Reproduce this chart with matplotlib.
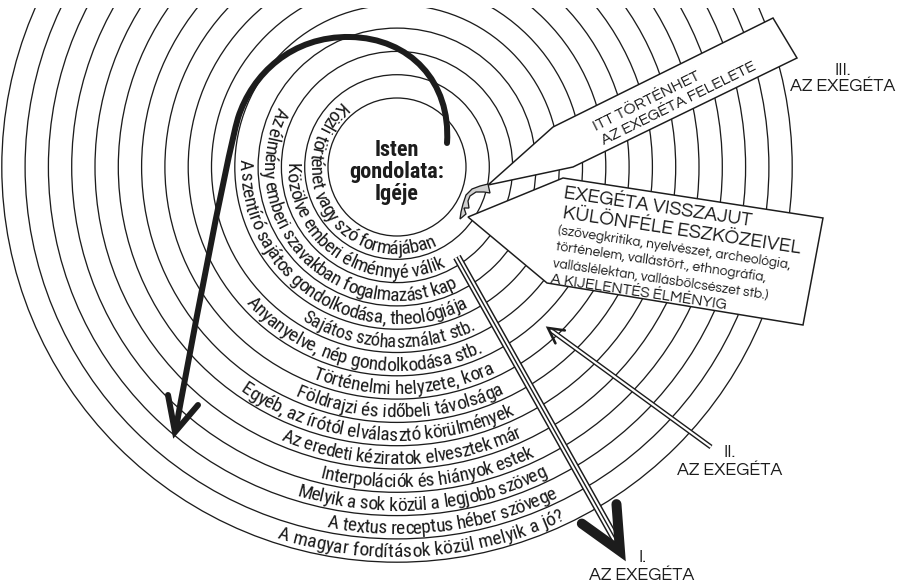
import numpy as np
import matplotlib
matplotlib.use('Agg')
import matplotlib.pyplot as plt
from matplotlib import font_manager
from matplotlib.font_manager import FontProperties
from matplotlib.patches import Circle, Polygon, PathPatch, Rectangle
from matplotlib.path import Path
from matplotlib.lines import Line2D

W, H, DPI = 906, 585, 100
PT = 72 / DPI  # points per pixel

# ---- content -------------------------------------------------------------
center_label = 'Isten\ngondolata:\nIgéje'

ring_labels = [
    'Közli történet vagy szó formájában',
    'Közölve emberi élménnyé válik',
    'Az élmény emberi szavakban fogalmazást kap',
    'A szentíró sajátos gondolkodása, theológiája',
    'Sajátos szóhasználat stb.',
    'Anyanyelve, nép gondolkodása stb.',
    'Történelmi helyzete, kora',
    'Földrajzi és időbeli távolsága',
    'Egyéb, az írótól elválasztó körülmények',
    'Az eredeti kéziratok elvesztek már',
    'Interpolációk és hiányok estek',
    'Melyik a sok közül a legjobb szöveg',
    'A textus receptus héber szövege',
    'A magyar fordítások közül melyik a jó?',
]

ribbon_lines = ['ITT TÖRTÉNHET', 'AZ EXEGÉTA FELELETE']

box_lines = [
    'EXEGÉTA VISSZAJUT',
    'KÜLÖNFÉLE ESZKÖZEIVEL',
    '(szövegkritika, nyelvészet, archeológia,',
    'történelem, vallástört., ethnográfia,',
    'valláslélektan, vallásbölcsészet stb.)',
    'A KIJELENTÉS ÉLMÉNYIG',
]

exegeta_numbers = ['I.', 'II.', 'III.']
exegeta_title = 'AZ EXEGÉTA'

# ---- layout --------------------------------------------------------------
CX, CY = 397, 167
R0, DR = 69, 23.3
ring_start = [131, 178, 153, 177, 238, 222, 248, 246, 235, 247, 256, 253, 259, 252]
ring_end = [297, 296, 297, 297, 296, 295, 295.5, 295.4, 295.5, 295, 295.4, 296, 296, 295.5]

fonts = font_manager.fontManager.ttflist


def pick(candidates, weight=400):
    for name in candidates:
        for f in fonts:
            if f.name == name and abs(int(f.weight) - weight) < 50 and f.style == 'normal':
                return name
    return 'DejaVu Sans'


NARROW = pick(['Roboto Condensed', 'Archivo Narrow', 'PT Sans Narrow', 'Asap Condensed',
               'Liberation Sans Narrow', 'Liberation Sans'])
NARROW_BOLD = pick(['Roboto Condensed', 'Asap Condensed', 'PT Sans Narrow',
                    'Barlow Semi Condensed', 'Liberation Sans'], 700)
WIDE = pick(['Questrial', 'Didact Gothic', 'DejaVu Sans'])
INK = '#1c1c1c'


def advance(ch, prop):
    font = font_manager.get_font(font_manager.findfont(prop))
    font.set_size(prop.get_size_in_points(), DPI)
    return font.load_char(ord(ch)).linearHoriAdvance / 65536


def curved_text(ax, s, r_base, a0, a1, fs):
    prop = FontProperties(family=NARROW, size=fs)
    widths = [advance(c, prop) for c in s]
    arc = r_base * np.radians(a1 - a0)
    k = arc / sum(widths)
    if k < 0.93:  # font too wide: shrink it instead of crushing letters
        fs = fs * k / 0.97
        prop = FontProperties(family=NARROW, size=fs)
        widths = [advance(c, prop) for c in s]
        k = arc / sum(widths)
    cum = 0.0
    for c, w in zip(s, widths):
        a = np.radians(a0) + k * (cum + w / 2) / r_base
        x = CX + r_base * np.cos(a)
        y = CY - r_base * np.sin(a)
        ax.text(x, y, c, rotation=np.degrees(a) + 90, rotation_mode='anchor',
                ha='center', va='baseline', fontsize=fs, family=NARROW,
                color=INK, zorder=2)
        cum += w


def line(ax, pts, px, color=INK, z=5, cap='butt', join='miter'):
    pts = np.asarray(pts, float)
    ax.add_line(Line2D(pts[:, 0], pts[:, 1], lw=px * PT, color=color, zorder=z,
                       solid_capstyle=cap, solid_joinstyle=join))


def chevron(ax, tip, back, length, spread, px, z=6):
    back = np.asarray(back, float)
    back = back / np.hypot(*back)
    arms = []
    for s in (spread, -spread):
        t = np.radians(s)
        rot = np.array([[np.cos(t), -np.sin(t)], [np.sin(t), np.cos(t)]])
        arms.append(np.asarray(tip) + length * rot @ back)
    line(ax, [arms[0], tip, arms[1]], px, z=z, cap='round', join='miter')


fig = plt.figure(figsize=(W / DPI, H / DPI), dpi=DPI)
ax = fig.add_axes([0, 0, 1, 1])
ax.set_xlim(0, W)
ax.set_ylim(H, 0)
ax.axis('off')

# concentric circles, clipped at the top margin
clip = Rectangle((0, 8), W, H, transform=ax.transData)
radii = R0 + DR * np.arange(len(ring_labels) + 1)
for r in radii:
    c = Circle((CX, CY), r, fill=False, lw=1.3 * PT, ec=INK, zorder=1)
    ax.add_patch(c)
    c.set_clip_path(clip)

for i, s in enumerate(ring_labels):
    curved_text(ax, s, radii[i + 1] - 5.0, ring_start[i], ring_end[i], 14.0)

ax.text(CX, CY + 5, center_label, ha='center', va='center', fontsize=16,
        fontweight='bold', family=NARROW_BOLD, linespacing=1.0, color=INK, zorder=3)

# ribbon (pen) and box
ribbon = Polygon([(488, 185), (553, 127), (773, 18), (797, 58), (573, 167)],
                 closed=True, fc='white', ec=INK, lw=1.5 * PT, zorder=3)
box = Polygon([(468, 217), (563, 178), (823, 218), (803, 325), (547, 283)],
              closed=True, fc='white', ec=INK, lw=1.5 * PT, zorder=3)
ax.add_patch(ribbon)
ax.add_patch(box)

nib = Polygon([(488, 184), (480, 186), (472, 189), (466, 195), (463, 204), (461, 212),
               (460, 219), (466, 214), (464, 208), (469, 208), (468, 201), (470, 196),
               (476, 192), (484, 192), (490, 193)],
              closed=True, fc='#d0d0d0', ec=INK, lw=1.3 * PT, zorder=4)
ax.add_patch(nib)

for txt, (x, y) in zip(ribbon_lines, [(596, 131), (604, 145)]):
    ax.text(x, y, txt, rotation=26.4, rotation_mode='anchor', ha='left',
            va='baseline', fontsize=11.5, family=WIDE, color=INK, zorder=4)

box_pos = [(563, 198), (562, 218), (557, 234), (555, 250), (552, 267), (550, 283)]
box_fs = [14, 14, 9.8, 9.8, 9.8, 11]
for txt, (x, y), fs in zip(box_lines, box_pos, box_fs):
    ax.text(x, y, txt, rotation=-8.5, rotation_mode='anchor', ha='left',
            va='baseline', fontsize=fs, family=WIDE, color=INK, zorder=4)

# big curved arrow
verts = [(447, 143), (451, 82), (410, 38), (350, 37),
         (292, 36), (252, 74), (238, 118),
         (226, 160), (186, 372), (176, 428)]
codes = [Path.MOVETO] + [Path.CURVE4] * 9
ax.add_patch(PathPatch(Path(verts, codes), fill=False, ec=INK, lw=6 * PT,
                       capstyle='round', joinstyle='round', zorder=5))
line(ax, [(168, 395), (175, 432), (198, 405)], 6, cap='round')

# arrow I: triple line
p0, p1 = np.array([457, 257]), np.array([617, 542])
line(ax, [p0, p1], 8.5)
line(ax, [p0, p1], 5.5, color='white')
line(ax, [p0, p1], 1.4)
chevron(ax, (620, 551), p0 - p1, 47, 25, 10)

# arrow II: double line
q0, q1 = np.array([711, 447]), np.array([552, 331])
line(ax, [q0, q1], 5)
line(ax, [q0, q1], 2.2, color='white')
chevron(ax, (548, 328), q0 - q1, 17, 28, 2.6)

# exegete labels
label_pos = [(642, 562, 580), (730, 457, 475), (843, 75, 91)]
for num, (x, y1, y2) in zip(exegeta_numbers, label_pos):
    ax.text(x, y1, num, ha='center', va='baseline', fontsize=13, family=WIDE, color=INK)
    ax.text(x, y2, exegeta_title, ha='center', va='baseline', fontsize=13,
            family=WIDE, color=INK)

fig.savefig('out.png', dpi=DPI, facecolor='white')
